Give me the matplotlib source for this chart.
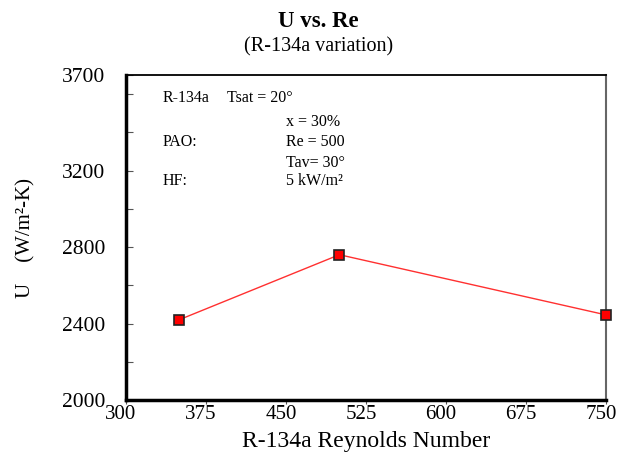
import numpy as np
import matplotlib
matplotlib.use("Agg")
import matplotlib.pyplot as plt
import matplotlib.transforms as mtransforms

re_vals = [350, 500, 750]
u_vals = [2420, 2760, 2445]

x_ticks = [300, 375, 450, 525, 600, 675, 750]
y_labeled = [2000, 2400, 2800, 3200, 3700]
y_minor = [2200, 2600, 3000, 3400, 3600]

notes_left = ["R-134a", "PAO:", "HF:"]
notes_right = ["x = 30%", "Re = 500", "Tav= 30\u00b0", "5 kW/m\u00b2"]

plt.rcParams['font.family'] = ['Liberation Serif', 'DejaVu Serif']

fig = plt.figure(figsize=(6.19, 4.55), dpi=100)
ax = fig.add_axes([0.2036, 0.121, 0.7755, 0.714])

ax.plot(re_vals, u_vals, color='#ff3030', lw=1.0, marker='s', ms=7.5,
        markerfacecolor='#ff0000', markeredgecolor='#222222', markeredgewidth=1.2,
        clip_on=False, zorder=3)

ax.set_xlim(300, 750)
ax.set_ylim(2000, 3700)
ax.set_xticks(x_ticks)
ax.set_xticklabels([str(v) for v in x_ticks], fontsize=15)
ax.set_yticks(y_labeled)
ax.set_yticklabels([str(v) for v in y_labeled], fontsize=15.5)
ax.set_yticks(y_minor, minor=True)
ax.tick_params(axis='y', which='both', direction='in', length=5, width=0.8,
               color='#555555', pad=15)
ax.tick_params(axis='x', direction='out', length=3, width=0.8, color='#555555', pad=0.5)

# labels in the original sit a little left of their ticks
shift = mtransforms.ScaledTranslation(-5 / 100, 0, fig.dpi_scale_trans)
for lab in ax.get_xticklabels():
    lab.set_transform(lab.get_transform() + shift)

ax.spines['left'].set_linewidth(2.5)
ax.spines['bottom'].set_linewidth(2.5)
ax.spines['top'].set_linewidth(1.3)
ax.spines['right'].set_linewidth(1.5)
ax.spines['right'].set_color('#666666')

ax.set_xlabel("R-134a Reynolds Number", fontsize=17, labelpad=5)
fig.text(0.042, 0.477, "U    (W/m\u00b2-K)", rotation=90, fontsize=15,
         ha='center', va='center')

fig.text(0.515, 0.953, "U vs. Re", fontsize=16.5, fontweight='bold', ha='center', va='center')
fig.text(0.514, 0.898, "(R-134a variation)", fontsize=14.5, ha='center', va='center')

# annotation block inside the axes
left_y = [0.929, 0.794, 0.674]
right_y = [0.855, 0.794, 0.729, 0.674]
for s, yy in zip(notes_left, left_y):
    ax.text(0.077, yy, s, transform=ax.transAxes, fontsize=11.5, va='center')
ax.text(0.21, 0.929, "Tsat = 20\u00b0", transform=ax.transAxes, fontsize=11.5, va='center')
for s, yy in zip(notes_right, right_y):
    ax.text(0.333, yy, s, transform=ax.transAxes, fontsize=11.5, va='center')

fig.savefig("out.png", dpi=100)
